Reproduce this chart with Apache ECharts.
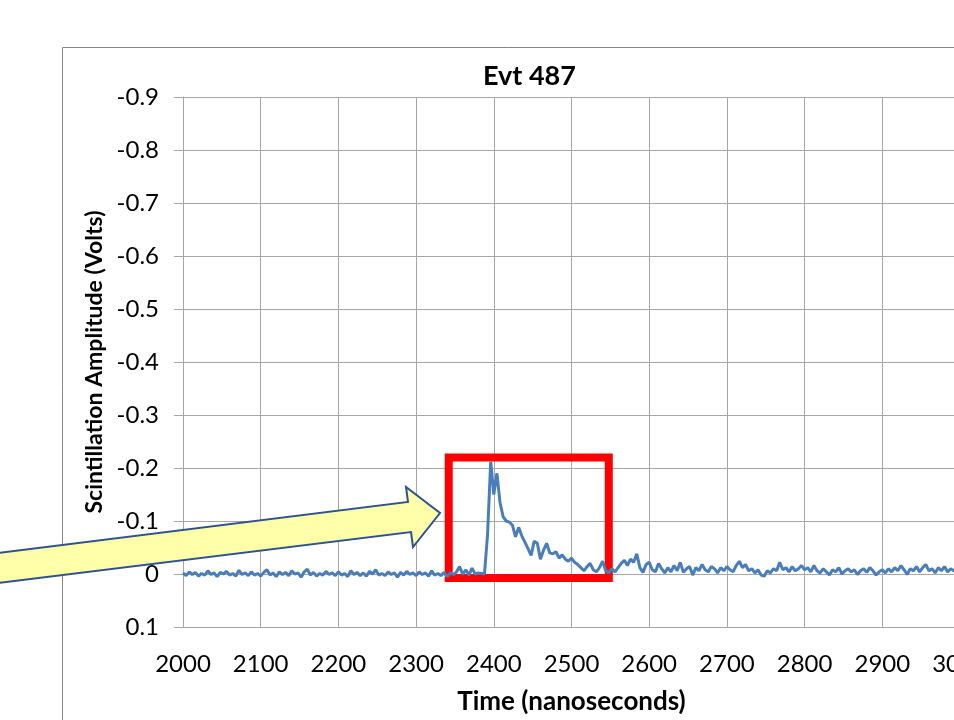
<!DOCTYPE html>
<html>
<head>
<meta charset="utf-8">
<title>Evt 487</title>
<script src="https://cdn.jsdelivr.net/npm/echarts@6/dist/echarts.min.js"></script>
<style>
    html, body { margin: 0; padding: 0; background: #fff; }
    #chart { width: 954px; height: 720px; }
</style>
</head>
<body>
<div id="chart"></div>
<script>
// sampling grid of the trace
var startTime = 2000,
    sampleStep = 4;

// scintillation amplitude (Volts), one value per 4 ns from 2000 to 3000
var amp2000 = [-0.002, 0.003, -0.004, 0.001, -0.003, 0.004, -0.001, 0.002, -0.006, 0.001, -0.002, 0.005, -0.003, 0.000, -0.005, 0.002, -0.001, 0.004, -0.007, 0.001, -0.002, 0.003, -0.004, 0.002, -0.001];
var amp2100 = [0.004, -0.003, -0.008, 0.002, -0.002, 0.005, -0.004, 0.001, -0.003, 0.003, -0.006, 0.000, -0.002, 0.006, -0.004, -0.009, 0.002, -0.003, 0.004, -0.001, 0.002, -0.005, 0.001, -0.002, 0.003];
var amp2200 = [-0.004, 0.002, -0.001, 0.005, -0.006, 0.001, -0.003, 0.003, -0.002, 0.004, -0.005, 0.000, -0.008, 0.002, -0.001, 0.003, -0.004, 0.001, -0.002, 0.006, -0.003, 0.002, -0.005, 0.001, -0.002];
var amp2300 = [0.003, -0.004, 0.001, -0.002, 0.004, -0.006, 0.002, -0.001, 0.003, -0.003, 0.005, -0.002, 0.001, -0.004, -0.014, 0.001, -0.008, 0.002, -0.011, 0.000, -0.002, -0.001, 0.000, -0.075, -0.212];
var amp2400 = [-0.150, -0.190, -0.135, -0.108, -0.100, -0.098, -0.092, -0.070, -0.088, -0.072, -0.060, -0.048, -0.035, -0.062, -0.058, -0.028, -0.045, -0.058, -0.040, -0.038, -0.042, -0.030, -0.036, -0.028, -0.024];
var amp2500 = [-0.030, -0.022, -0.018, -0.012, -0.006, -0.014, -0.020, -0.008, -0.004, -0.012, -0.024, -0.006, -0.002, -0.010, -0.004, -0.012, -0.020, -0.026, -0.016, -0.028, -0.022, -0.038, -0.012, -0.003, -0.018];
var amp2600 = [-0.022, -0.008, -0.004, -0.020, -0.010, -0.002, -0.012, -0.004, -0.016, -0.006, -0.022, -0.003, -0.010, -0.014, 0.002, -0.012, -0.006, -0.018, -0.008, -0.004, -0.014, -0.010, -0.002, -0.012, -0.006];
var amp2700 = [-0.014, -0.008, -0.004, -0.016, -0.024, -0.012, -0.018, -0.006, -0.010, -0.002, -0.008, 0.002, 0.004, -0.006, -0.002, -0.010, -0.006, -0.022, -0.008, -0.012, -0.004, -0.014, -0.006, -0.010, -0.016];
var amp2800 = [-0.008, -0.012, -0.004, -0.016, -0.006, -0.002, -0.010, -0.004, 0.002, -0.008, -0.004, -0.012, 0.000, -0.006, -0.010, -0.004, -0.008, 0.001, -0.006, -0.010, -0.003, -0.012, -0.006, 0.002, -0.004];
var amp2900 = [-0.008, -0.002, -0.010, -0.004, -0.012, -0.006, -0.016, -0.008, 0.001, -0.010, -0.006, -0.014, -0.004, -0.012, -0.018, -0.006, -0.010, -0.002, -0.012, -0.006, -0.014, -0.004, -0.010, -0.006, -0.012, -0.008];

// highlighted pulse window (time, volts)
var boxTime = [2342, 2548];
var boxAmp = [-0.22, 0.0075];

var amplitude = [].concat(amp2000, amp2100, amp2200, amp2300, amp2400,
    amp2500, amp2600, amp2700, amp2800, amp2900);
var trace = amplitude.map(function (v, i) {
    return [startTime + i * sampleStep, v];
});

var fontFamily = 'Lato, "Open Sans", sans-serif';

var chart = echarts.init(document.getElementById('chart'), null, {renderer: 'canvas'});
var option = {
    animation: false,
    backgroundColor: '#fff',
    title: {
        text: 'Evt 487',
        left: 478,
        top: 58,
        textStyle: {
            fontFamily: fontFamily,
            fontSize: 27,
            fontWeight: 'bold',
            color: '#000'
        }
    },
    grid: {
        left: 183,
        top: 97,
        width: 777,
        height: 530,
        outerBoundsMode: 'none',
        containLabel: false
    },
    xAxis: {
        type: 'value',
        min: 2000,
        max: 3000,
        interval: 100,
        name: 'Time (nanoseconds)',
        nameLocation: 'middle',
        nameGap: 62,
        nameTextStyle: {
            fontFamily: fontFamily,
            fontSize: 26,
            fontWeight: 'bold',
            color: '#000'
        },
        axisLine: {lineStyle: {color: '#a6a6a6', width: 1}},
        axisTick: {show: false},
        axisLabel: {
            margin: 25,
            fontFamily: fontFamily,
            fontSize: 24,
            color: '#000',
            formatter: function (v) {
                return String(v);
            }
        },
        splitLine: {lineStyle: {color: '#a6a6a6', width: 1}}
    },
    yAxis: {
        type: 'value',
        inverse: true,
        min: -0.9,
        max: 0.1,
        interval: 0.1,
        name: 'Scintillation Amplitude (Volts)',
        nameLocation: 'middle',
        nameGap: 76,
        nameTextStyle: {
            fontFamily: fontFamily,
            fontSize: 23,
            fontWeight: 'bold',
            color: '#000'
        },
        axisLine: {show: true, lineStyle: {color: '#a6a6a6', width: 1}},
        axisTick: {show: true, length: 9, lineStyle: {color: '#a6a6a6'}},
        axisLabel: {
            margin: 24,
            fontFamily: fontFamily,
            fontSize: 24,
            color: '#000',
            formatter: function (v) {
                var r = Math.round(v * 10) / 10;
                return r === 0 ? '0' : r.toFixed(1);
            }
        },
        splitLine: {lineStyle: {color: '#a6a6a6', width: 1}}
    },
    series: [{
        name: 'Evt 487',
        type: 'line',
        data: trace,
        showSymbol: false,
        lineStyle: {color: '#4a7ebb', width: 3},
        itemStyle: {color: '#4a7ebb'},
        z: 3
    }, {
        name: 'window',
        type: 'line',
        data: [],
        z: 5,
        markArea: {
            silent: true,
            itemStyle: {
                color: 'rgba(0,0,0,0)',
                borderColor: '#ff0000',
                borderWidth: 8
            },
            data: [[
                {coord: [boxTime[0], boxAmp[0]]},
                {coord: [boxTime[1], boxAmp[1]]}
            ]]
        }
    }],
    graphic: [{
        // chart area border
        type: 'rect',
        z: 0,
        shape: {x: 62.5, y: 47.5, width: 1000, height: 800},
        style: {fill: 'none', stroke: '#868686', lineWidth: 1}
    }, {
        // pointer arrow
        type: 'polygon',
        z: 100,
        shape: {
            points: [[-10, 554], [408, 502], [406, 487], [440, 513], [413, 547], [411, 532], [-10, 584]]
        },
        style: {fill: '#ffffaa', stroke: '#2f528f', lineWidth: 2}
    }]
};
chart.setOption(option);
</script>
</body>
</html>
